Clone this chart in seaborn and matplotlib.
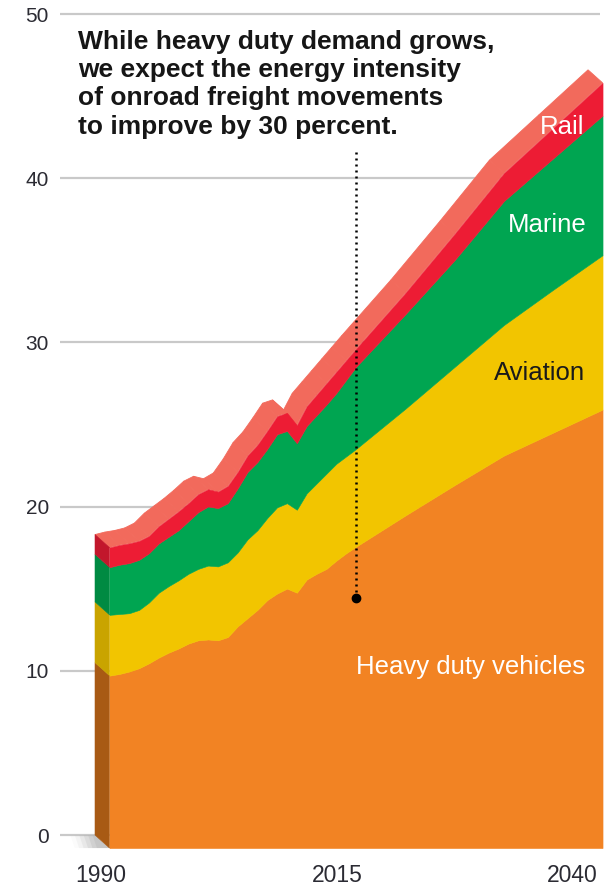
import numpy as np
import matplotlib
matplotlib.use("Agg")
import matplotlib.pyplot as plt
import matplotlib.transforms as mtransforms
from matplotlib.patches import Polygon
import seaborn as sns

sns.set_theme(style="white")
plt.rcParams["font.family"] = ["Liberation Sans", "DejaVu Sans"]

# energy demand by freight mode
years = [1990, 1991, 1992, 1993, 1994, 1995, 1996, 1997, 1998, 1999,
         2000, 2001, 2002, 2003, 2004, 2005, 2006, 2007, 2008, 2009,
         2010, 2011, 2012, 2013, 2014, 2015, 2020, 2025, 2030, 2035, 2040]
heavy_duty = [10.5, 10.6, 10.75, 10.95, 11.25, 11.6, 11.9, 12.15, 12.45, 12.65,
              12.7, 12.65, 12.85, 13.5, 14.0, 14.5, 15.1, 15.5, 15.8, 15.55,
              16.35, 16.7, 17.0, 17.5, 17.95, 18.35, 20.25, 22.1, 23.9, 25.3, 26.7]
aviation = [3.7, 3.65, 3.55, 3.55, 3.7, 3.95, 4.05, 4.15, 4.25, 4.35,
            4.5, 4.5, 4.55, 4.5, 4.8, 4.85, 5.0, 5.25, 5.2, 5.05,
            5.25, 5.5, 5.8, 5.9, 5.9, 5.95, 6.5, 7.2, 7.95, 8.7, 9.4]
marine = [2.9, 3.0, 3.05, 3.05, 3.0, 3.0, 3.0, 3.05, 3.2, 3.45,
          3.6, 3.55, 3.6, 3.9, 4.1, 4.15, 4.2, 4.45, 4.4, 4.05,
          4.1, 4.15, 4.2, 4.3, 4.65, 5.0, 5.75, 6.5, 7.55, 8.0, 8.5]
rail = [1.2, 1.2, 1.2, 1.15, 1.05, 1.05, 1.1, 1.15, 1.1, 1.1,
        1.05, 1.0, 1.05, 1.0, 1.0, 1.05, 1.1, 1.1, 1.1, 1.1,
        1.2, 1.25, 1.3, 1.3, 1.2, 1.1, 1.3, 1.6, 1.7, 1.85, 2.0]

layer_names = ["Heavy duty vehicles", "Aviation", "Marine", "Rail"]
face_colors = ["#F28323", "#F2C500", "#00A551", "#ED1C34"]
side_colors = ["#A85A14", "#C9A400", "#008A42", "#C2172C"]
top_color = "#F26A5C"
label_colors = ["white", "#1a1a1a", "white", "white"]

# depth of the fake 3d extrusion (front face sits right and below the grid plane)
DX = 1.47
DY = -0.79

fig = plt.figure(figsize=(6.12, 8.9), dpi=100)
ax = fig.add_axes([60 / 612, 40 / 890, 552 / 612, 844.2 / 890])
ax.set_xlim(1986.45, 2042.43)
ax.set_ylim(-0.91, 50.5)

ax.hlines(range(0, 51, 10), 1986.45, 2041.2, color="#c9c9c9", lw=1.6, zorder=0)

# floor shadow next to the zero line
for k, a in enumerate(np.linspace(0.05, 0.35, 6)):
    x0 = 1987.5 + k * 0.45
    ax.add_patch(Polygon([(x0, 0), (1990, 0), (1990 + DX, DY), (x0 + DX * 0.3, DY)],
                         closed=True, color="#b5b5b5", alpha=a, lw=0, zorder=1))

x = np.array(years, dtype=float)
layers = np.vstack([heavy_duty, aviation, marine, rail])
tops = np.cumsum(layers, axis=0)
total = tops[-1]

# top surface of the extrusion
for i in range(len(x) - 1):
    ax.add_patch(Polygon([(x[i], total[i]), (x[i + 1], total[i + 1]),
                          (x[i + 1] + DX, total[i + 1] + DY), (x[i] + DX, total[i] + DY)],
                         closed=True, facecolor=top_color, edgecolor=top_color,
                         lw=0.6, zorder=2))

# left side of the extrusion
lower = 0.0
for i in range(len(layer_names)):
    hi = tops[i][0]
    ax.add_patch(Polygon([(x[0], lower), (x[0], hi), (x[0] + DX, hi + DY), (x[0] + DX, lower + DY)],
                         closed=True, facecolor=side_colors[i], edgecolor=side_colors[i],
                         lw=0.4, zorder=2))
    lower = hi

# front face: stacked areas
base = np.zeros_like(x)
for i in range(len(layer_names)):
    ax.fill_between(x + DX, base + DY, tops[i] + DY, facecolor=face_colors[i],
                    edgecolor=face_colors[i], lw=0.4, zorder=3)
    base = tops[i]

# leader line for the note
ax.plot([2015 + DX, 2015 + DX], [14.43, 41.7], color="black", lw=1.8,
        linestyle=(0, (0.8, 1.6)), zorder=5)
ax.plot([2015 + DX], [14.43], "o", color="black", ms=6, zorder=5)

fig.text(78 / 612, 1 - 30 / 890,
         "While heavy duty demand grows,\nwe expect the energy intensity\n"
         "of onroad freight movements\nto improve by 30 percent.",
         ha="left", va="top", fontsize=19, fontweight="bold", color="#161616",
         linespacing=1.22)

label_pos = [(585, 667), (585, 373), (587, 225), (584, 127)]
for name, (px, py), c in zip(layer_names, label_pos, label_colors):
    fig.text(px / 612, 1 - py / 890, name, ha="right", va="center",
             fontsize=18.5, color=c)

ax.set_yticks(range(0, 51, 10))
ax.set_xticks([1990, 2015, 2040])
ax.set_xticklabels(["1990", "2015", "2040"])
ax.tick_params(axis="y", length=0, pad=8, labelsize=15, labelcolor="#2b2b33")
ax.tick_params(axis="x", length=0, pad=10, labelsize=16.5, labelcolor="#2b2b33")
for lab, shift in zip(ax.get_xticklabels(), [6, -4, -16]):
    lab.set_transform(lab.get_transform() + mtransforms.Affine2D().translate(shift, 0))

sns.despine(ax=ax, left=True, bottom=True)
ax.grid(False)

fig.savefig("out.png", dpi=100)
